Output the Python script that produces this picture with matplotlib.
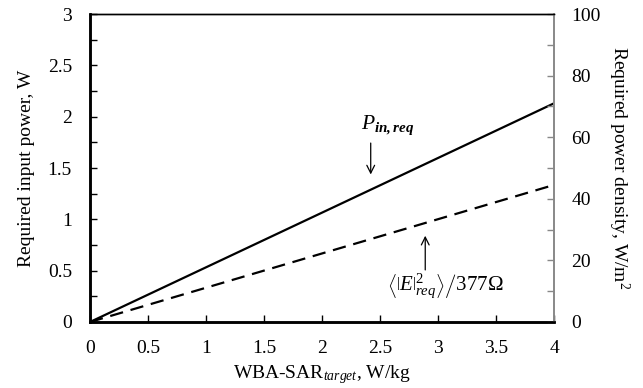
import matplotlib
matplotlib.use("Agg")
import matplotlib.pyplot as plt
from matplotlib.ticker import MultipleLocator
import numpy as np

plt.rcParams['font.family'] = ['Liberation Serif', 'DejaVu Serif']
plt.rcParams['mathtext.fontset'] = 'custom'
plt.rcParams['mathtext.rm'] = 'Liberation Serif'
plt.rcParams['mathtext.it'] = 'Liberation Serif:italic'
plt.rcParams['mathtext.bf'] = 'Liberation Serif:bold:italic'
plt.rcParams['font.size'] = 14

sar = [0, 4]
p_in = [0, 2.13]          # W
power_density = [0, 44.5] # W/m^2

x_ticks = [0, 0.5, 1, 1.5, 2, 2.5, 3, 3.5, 4]
x_tick_labels = ['0', '0.5', '1', '1.5', '2', '2.5', '3', '3.5', '4']
left_ticks = [0, 0.5, 1, 1.5, 2, 2.5, 3]
left_tick_labels = ['0', '0.5', '1', '1.5', '2', '2.5', '3']
right_ticks = [0, 20, 40, 60, 80, 100]

fig = plt.figure(figsize=(6.43, 3.88), dpi=100)
ax = fig.add_axes([90/643, 1 - 322/388, 464/643, 308/388])
ax2 = ax.twinx()

ax.plot(sar, p_in, color='black', lw=1.6)
ax2.plot(sar, power_density, color='black', lw=1.6, dashes=(6, 3.5))

ax.set_xlim(0, 4)
ax.set_ylim(0, 3)
ax2.set_ylim(0, 100)

ax.set_xticks(x_ticks)
ax.set_xticklabels(x_tick_labels)
ax.set_yticks(left_ticks)
ax.set_yticklabels(left_tick_labels)
ax.yaxis.set_minor_locator(MultipleLocator(0.25))
ax2.set_yticks(right_ticks)
ax2.yaxis.set_minor_locator(MultipleLocator(10))

ax.tick_params(axis='x', direction='in', length=5, width=1, pad=13, top=False)
ax.tick_params(axis='y', which='both', direction='in', length=5, width=1, pad=13)
ax2.tick_params(axis='y', which='both', direction='in', length=5, width=1, pad=12.5, color='#888888')

for a in (ax, ax2):
    a.spines['left'].set_linewidth(1.8)
    a.spines['bottom'].set_linewidth(1.8)
    a.spines['top'].set_linewidth(1.0)
    a.spines['right'].set_linewidth(1.2)
    a.spines['right'].set_color('#888888')

ax.set_xlabel(r'WBA-SAR$_{target}$, W/kg', labelpad=4)
ax.set_ylabel('Required input power, W', labelpad=9)
ax2.set_ylabel(r'Required power density, W/m$^2$', rotation=270, labelpad=22)

ax.annotate('', xy=(2.42, 1.41), xytext=(2.42, 1.77),
            arrowprops=dict(arrowstyle='->', color='black', lw=0.9))
ax.text(2.34, 1.80, r'$P_{\mathbf{in,req}}$', fontsize=15.5, ha='left', va='bottom')

ax2.annotate('', xy=(2.89, 28.9), xytext=(2.89, 16.0),
             arrowprops=dict(arrowstyle='->', color='black', lw=0.9))
ax2.text(2.56, 11.8,
         r'$\left.\left\langle\left|E\right|^{2}_{req}\right\rangle\right/377\Omega$',
         fontsize=15, ha='left', va='center')

fig.savefig('out.png', dpi=100)
